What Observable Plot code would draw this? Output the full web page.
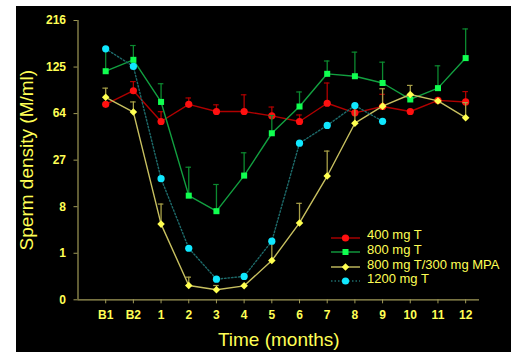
<!DOCTYPE html>
<html><head><meta charset="utf-8">
<script src="https://cdn.jsdelivr.net/npm/d3@7"></script>
<script src="https://cdn.jsdelivr.net/npm/@observablehq/plot@0.6"></script>
<style>
html,body{margin:0;padding:0;background:#fff;}
#wrap{position:absolute;left:16px;top:6px;width:495px;height:346px;background:#000;overflow:hidden;}
#wrap svg{position:absolute;left:0;top:0;}
.lg{position:absolute;left:314px;height:14px;font:13px "Liberation Sans",Arial,sans-serif;color:#ffff55;white-space:nowrap;}
.lg svg{position:static !important;vertical-align:middle;}
.lg span{position:absolute;left:37px;top:-1px;line-height:14px;}
</style></head><body><div id="wrap"></div>
<script>
const categories = ["B1","B2","1","2","3","4","5","6","7","8","9","10","11","12"];
const yTicks = [0,1,8,27,64,125,216];
const seriesNames = ["400 mg T","800 mg T","800 mg T/300 mg MPA","1200 mg T"];

const t400    = [74, 90.6, 56.2, 74, 66.2, 66.2, 61.7, 56.2, 75.3, 64.8, 71.6, 66.2, 78.6, 76.8];
const t400Err = [null, 103, 66, 81.5, 73.5, 85.4, 71, 62.6, 101, null, 86, null, null, 89.5];
const t800    = [118.4, 137, 76.8, 11.2, 6.9, 19, 45.8, 71.6, 114.4, 110.8, 101, 79.7, 94, 140];
const t800Err = [157, 163, 100, 23.1, 15.2, 31.5, 62, 89, 135, 150.6, 133, null, 127, 197];
const tMpa    = [82.3, 65.6, 4.3, 0.029, 0.0099, 0.027, 0.6, 4.5, 18.8, 54.6, 72, 85.8, 78, 59.9];
const tMpaErr = [94, 76.8, 8.7, 0.115, 0.029, null, 2.0, 8.9, 32.6, 72, 93.2, 97.7, null, 76];
const t1200   = [156.8, 126, 17.6, 1.36, 0.087, 0.127, 2.0, 38.1, 52.6, 72.7, 56.4, null, null, null];

const styles = [
  {name: seriesNames[0], vals: t400, err: t400Err, line: "#b00000", fill: "#ff1010", err_c: "#b00000", symbol: "circle", r: 3.6, dash: null},
  {name: seriesNames[1], vals: t800, err: t800Err, line: "#12a040", fill: "#10ff50", err_c: "#0c8a30", symbol: "square", r: 3.4, dash: null},
  {name: seriesNames[2], vals: tMpa, err: tMpaErr, line: "#c8c060", fill: "#ffff50", err_c: "#a8a048", symbol: "diamond2", r: 3.4, dash: null},
  {name: seriesNames[3], vals: t1200, err: null, line: "#1d6b6b", fill: "#10e8ff", err_c: "#1d6b6b", symbol: "circle", r: 3.6, dash: "1.5,2"}
];

const marks = [];
// axis lines
marks.push(Plot.ruleX([-1], {y1: 0, y2: 216, stroke: "#a09a58", strokeWidth: 1.2}));
marks.push(Plot.ruleY([0], {x1: -1, x2: 13.5, stroke: "#a09a58", strokeWidth: 1.2}));
marks.push(Plot.axisY(yTicks, {tickSize: 4, tickPadding: 8, stroke: "#a09a58", fill: "#ffff55", fontWeight: "bold", fontSize: 12, label: null, tickFormat: d => String(d)}));
marks.push(Plot.axisX(d3.range(categories.length), {tickSize: 4, tickPadding: 7, stroke: "#a09a58", fill: "#ffff55", fontWeight: "bold", fontSize: 12, label: null, tickFormat: i => categories[i]}));

for (const s of styles) {
  const rows = s.vals.map((v, i) => ({i, v, top: s.err ? s.err[i] : null})).filter(d => d.v != null);
  const errRows = rows.filter(d => d.top != null);
  if (errRows.length) {
    marks.push(Plot.ruleX(errRows, {x: "i", y1: "v", y2: "top", stroke: s.err_c, strokeWidth: 1.3}));
    marks.push(Plot.ruleY(errRows, {y: "top", x1: d => d.i - 0.1, x2: d => d.i + 0.1, stroke: s.err_c, strokeWidth: 1.2}));
  }
  marks.push(Plot.line(rows, {x: "i", y: "v", stroke: s.line, strokeWidth: 1.4, strokeDasharray: s.dash}));
  marks.push(Plot.dot(rows, {x: "i", y: "v", fill: s.fill, symbol: s.symbol, r: s.r, stroke: "none"}));
}

marks.push(Plot.text(["Sperm density (M/ml)"], {frameAnchor: "left", rotate: -90, dx: -51.5, fill: "#ffff55", fontSize: 19, textAnchor: "middle", lineAnchor: "middle"}));
marks.push(Plot.text(["Time (months)"], {frameAnchor: "bottom", dy: 40, fill: "#ffff55", fontSize: 19, textAnchor: "middle", lineAnchor: "middle"}));

const chart = Plot.plot({
  width: 495, height: 346,
  marginLeft: 61.5, marginRight: 32, marginTop: 14, marginBottom: 52.7,
  style: {background: "transparent", fontFamily: "'Liberation Sans', Arial, sans-serif", color: "#ffff55"},
  x: {type: "linear", domain: [-1, 13.5], axis: null},
  y: {type: "pow", exponent: 1/3, domain: [0, 216], axis: null},
  marks
});
const wrap = document.getElementById("wrap");
wrap.appendChild(chart);

// legend
const rowY = [223, 237.5, 252.5, 266.5];
styles.forEach((s, k) => {
  const div = document.createElement("div");
  div.className = "lg";
  div.style.top = rowY[k] + "px";
  const sym = d3.symbol(s.symbol === "square" ? d3.symbolSquare : s.symbol === "diamond2" ? d3.symbolDiamond2 : d3.symbolCircle, Math.PI * s.r * s.r)();
  div.innerHTML = `<svg width="32" height="14"><line x1="1" x2="30" y1="7" y2="7" stroke="${s.line}" stroke-width="1.4" ${s.dash ? `stroke-dasharray="${s.dash}"` : ""}/><path d="${sym}" transform="translate(15.5,7)" fill="${s.fill}"/></svg><span>${s.name}</span>`;
  wrap.appendChild(div);
});
</script>
</body></html>
